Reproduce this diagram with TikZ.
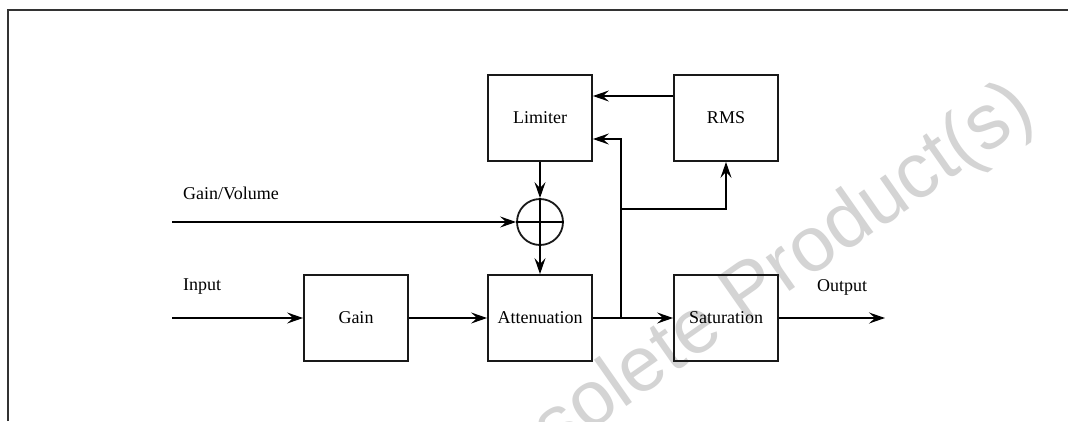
\documentclass[tikz,border=0pt]{standalone}
\usepackage{fontspec}
\setmainfont{Liberation Serif}
\newfontfamily\wmfont{Liberation Sans}
\usetikzlibrary{arrows.meta}
\begin{document}
\begin{tikzpicture}[x=1pt,y=-1pt,
  blk/.style={draw=black!90, line width=1.8pt, minimum width=104pt, minimum height=86pt, inner sep=0pt, font=\fontsize{18}{20}\selectfont},
  lbl/.style={anchor=base west, inner sep=0pt, font=\fontsize{18}{20}\selectfont},
  conn/.style={line width=1.8pt, -{Stealth[length=16pt,width=11pt,inset=6pt]}},
  wire/.style={line width=1.8pt}]
\fill[white] (0,0) rectangle (1074,421);
\begin{scope}
\clip (0,0) rectangle (1074,421);
\node[rotate=35, text=black!17, font=\wmfont\fontsize{78}{80}\selectfont, anchor=base, inner sep=0pt] (wm) at (754,317) {Obsolete Product(s)};
\end{scope}
\draw[line width=2.6pt, draw=black!80] (8,421) -- (8,10) -- (1068,10);
% blocks
\node[blk] (lim) at (540,118) {Limiter};
\node[blk] (rms) at (726,118) {RMS};
\node[blk] (gain) at (356,318) {Gain};
\node[blk] (att) at (540,318) {Attenuation};
\node[blk] (sat) at (726,318) {Saturation};
\node[circle, draw=black!90, line width=1.8pt, minimum size=46pt, inner sep=0pt] (sum) at (540,222) {};
\draw[wire] (sum.north) -- (sum.south);
\draw[wire] (sum.west) -- (sum.east);
% labels
\node[lbl] (lgv) at (183,199) {Gain/Volume};
\node[lbl] (lin) at (183,290) {Input};
\node[lbl] (lout) at (817,291) {Output};
% coordinates
\coordinate (gv) at (172,222);
\coordinate (in) at (172,318);
\coordinate (out) at (885,318);
\coordinate (j) at (621,318);
\coordinate (b) at (621,209);
\coordinate (t) at (621,139);
% connectors
\draw[conn] (gv) -- (sum.west);
\draw[conn] (lim.south) -- (sum.north);
\draw[conn] (sum.south) -- (att.north);
\draw[conn] (in) -- (gain.west);
\draw[conn] (gain.east) -- (att.west);
\draw[wire] (att.east) -- (j);
\draw[conn] (j) -- (sat.west);
\draw[conn] (sat.east) -- (out);
\draw[conn] (j) -- (t) -- (t -| lim.east);
\draw[conn] (b) -| (rms.south);
\draw[conn] ([yshift=22pt]rms.west) -- ([yshift=22pt]lim.east);
\pgfresetboundingbox
\useasboundingbox (0,0) rectangle (1074,421);
\end{tikzpicture}
\end{document}
